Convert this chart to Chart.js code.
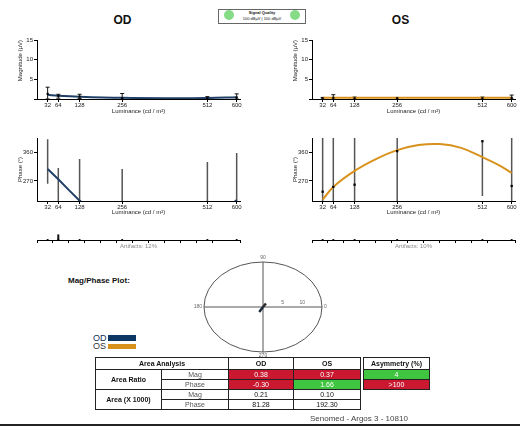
<!DOCTYPE html>
<html><head><meta charset="utf-8">
<script src="https://cdn.jsdelivr.net/npm/chart.js@4.4.1/dist/chart.umd.min.js"></script>
<style>
html,body{margin:0;padding:0;width:520px;height:427px;overflow:hidden;background:#fff;font-family:"Liberation Sans",Arial,sans-serif;color:#111;}
.abs{position:absolute;}
canvas{position:absolute;}
.ttl{font-weight:bold;font-size:12px;text-align:center;line-height:12px;}
table.t{border-collapse:collapse;table-layout:fixed;font-size:7px;}
table.t td,table.t th{border:1px solid #222;padding:0;height:9px;line-height:9px;text-align:center;overflow:hidden;white-space:nowrap;}
table.t th{font-weight:bold;}
td.g{color:#555;}
td.red{background:#c9182f;color:#fff;}
td.grn{background:#3fc53f;color:#fff;}
</style></head><body>

<div class="abs ttl" style="left:100px;top:14px;width:45px;">OD</div>
<div class="abs ttl" style="left:378px;top:14px;width:45px;">OS</div>

<div class="abs" style="left:218px;top:9px;width:86px;height:13px;border:1px solid #666;"></div>
<div class="abs" style="left:224px;top:10px;width:10px;height:10px;border-radius:50%;background:#86dc86;"></div>
<div class="abs" style="left:290px;top:10px;width:10px;height:10px;border-radius:50%;background:#86dc86;"></div>
<div class="abs" style="left:236px;top:10px;width:52px;text-align:center;font-size:4px;line-height:5px;font-weight:bold;">Signal Quality</div>
<div class="abs" style="left:234px;top:16px;width:56px;text-align:center;font-size:4px;line-height:5px;white-space:nowrap;">100 dBµV | 100 dBµV</div>

<canvas id="odMag" width="250" height="90" style="left:0;top:30px"></canvas>
<canvas id="osMag" width="245" height="90" style="left:275px;top:30px"></canvas>
<canvas id="odPh" width="250" height="100" style="left:0;top:121px"></canvas>
<canvas id="osPh" width="245" height="100" style="left:275px;top:121px"></canvas>
<canvas id="odArt" width="250" height="22" style="left:0;top:228px"></canvas>
<canvas id="osArt" width="245" height="22" style="left:275px;top:228px"></canvas>
<canvas id="polar" width="150" height="110" style="left:190px;top:250px"></canvas>

<div class="abs" style="left:68px;top:276px;font-size:8px;font-weight:bold;line-height:10px;">Mag/Phase Plot:</div>

<div class="abs" style="left:93px;top:334px;font-size:9px;line-height:8px;color:#0d2f55;">OD</div>
<div class="abs" style="left:108px;top:335px;width:28px;height:6px;background:#0d3763;"></div>
<div class="abs" style="left:93px;top:342px;font-size:9px;line-height:8px;color:#333;">OS</div>
<div class="abs" style="left:108px;top:344px;width:28px;height:5px;background:#d8921c;"></div>

<div id="tblMain" class="abs" style="left:95px;top:357px;"></div>
<div id="tblAsym" class="abs" style="left:363px;top:357px;"></div>

<div class="abs" style="left:310px;top:414px;font-size:8px;line-height:10px;color:#444;">Senomed - Argos 3 - 10810</div>
<div class="abs" style="left:0;top:424px;width:520px;height:2px;background:#222;"></div>

<script>
// ---------- DATA ----------
const luminance = [32, 64, 128, 256, 512, 600];
const luminanceTicks = [32, 64, 128, 256, 512, 600];

// Magnitude (µV)
const odMag      = [1.3, 0.8, 0.6, 0.2, 0.2, 0.4];
const odMagLow   = [0.0, 0.2, 0.1, 0.0, 0.0, 0.0];
const odMagHigh  = [3.0, 1.2, 1.2, 1.4, 0.6, 1.3];
const odMagFitX  = [32, 64, 128, 256, 384, 512, 600];
const odMagFit   = [1.05, 0.85, 0.6, 0.3, 0.2, 0.25, 0.45];

const osMag      = [0.2, 0.3, 0.2, 0.2, 0.2, 0.3];
const osMagLow   = [0.0, 0.0, 0.0, 0.0, 0.0, 0.0];
const osMagHigh  = [0.4, 1.1, 0.5, 0.4, 0.5, 1.0];
const osMagFitX  = [32, 64, 128, 256, 384, 512, 600];
const osMagFit   = [0.3, 0.3, 0.3, 0.3, 0.3, 0.3, 0.3];

// Phase (°)
const odPhaseLow  = [261, 200, 200, 200, 200, 200];
const odPhaseHigh = [400, 310, 338, 307, 329, 357];
const odPhaseFitX = [32, 64, 96, 128, 256, 384, 512, 600];
const odPhaseFit  = [307, 275, 241, 208, 120, 80, 130, 210];

const osPhase     = [236, 251, 258, 363, 394, 254];
const osPhaseLow  = [200, 200, 200, 200, 223, 200];
const osPhaseHigh = [410, 410, 410, 410, 397, 410];
const osPhaseFitX = [32, 64, 128, 192, 256, 320, 384, 448, 512, 560, 600];
const osPhaseFit  = [211, 251, 301, 338, 366, 382, 385, 373, 344, 320, 295];

// Artifacts
const odArtifacts = [0, 3.5, 0, 0, 0, 0];
const osArtifacts = [0, 0, 0, 0, 0, 0];
const odArtifactPct = 12;
const osArtifactPct = 10;

// Mag/Phase polar vectors: [magnitude, phase°]
const polarOD = [1.9, 240];
const polarOS = [1.4, 58];
const polarRadialTicks = [5, 10];

// Area analysis table
const areaRatioMag   = ['0.38', '0.37'];
const areaRatioPhase = ['-0.30', '1.66'];
const areaMag        = ['0.21', '0.10'];
const areaPhase      = ['81.28', '192.30'];
const asymmetry      = ['4', '>100'];
const areaRatioMagColors   = ['red', 'red'];
const areaRatioPhaseColors = ['red', 'grn'];
const asymmetryColors      = ['grn', 'red'];

// ---------- COLOURS ----------
const OD_COLOR = '#1f3f66';
const OS_COLOR = '#d8921c';

Chart.defaults.font.family = '"Liberation Sans", Arial, sans-serif';
Chart.defaults.color = '#222';
Chart.defaults.animation = false;
Chart.defaults.devicePixelRatio = 1;
Chart.defaults.plugins.legend.display = false;
Chart.defaults.plugins.tooltip.enabled = false;

function pts(xs, ys){ return xs.map((x,i)=>({x, y: ys[i]})); }
function errData(xs, lo, hi){
  const d = [];
  xs.forEach((x,i)=>{ d.push({x, y: lo[i]}, {x, y: hi[i]}, {x, y: null}); });
  return d;
}

function xScale(h, tb, title, opts){
  opts = opts || {};
  return {
    type: 'linear', min: 0, max: 610,
    afterBuildTicks: s => { s.ticks = (opts.step ? s.ticks : luminanceTicks.map(v=>({value:v}))); },
    afterFit: s => { s.height = h; },
    ticks: { display: !opts.noLabels, font: { size: 6 }, color: '#222', padding: 0, maxRotation: 0, autoSkip: false, stepSize: opts.step },
    grid: { display: true, drawOnChartArea: false, tickLength: 3, color: '#000', lineWidth: 1 },
    border: { color: '#000', width: 1 },
    title: { display: true, text: title, font: { size: 6 }, color: opts.titleColor || '#222', padding: { top: 0, bottom: tb } }
  };
}

function magChart(id, pointsY, lo, hi, fitX, fitY, color){
  new Chart(document.getElementById(id), {
    type: 'scatter',
    data: { datasets: [
      { data: pts(luminance, pointsY), pointStyle: 'rect', pointRadius: 1.5, backgroundColor: '#000', borderColor: '#000', borderWidth: 0 },
      { data: pts(fitX, fitY), showLine: true, borderColor: color, borderWidth: 2, pointRadius: 0, tension: 0.4 },
      { data: errData(luminance, lo, hi), showLine: true, spanGaps: false, borderColor: '#111', borderWidth: 1, pointStyle: 'line', pointRadius: 2, pointBorderColor: '#111', pointBorderWidth: 1 }
    ]},
    options: {
      responsive: false,
      layout: { padding: { top: 10, right: id === 'odMag' ? 10 : 5, left: 0, bottom: 0 } },
      scales: {
        x: xScale(21, 5, 'Luminance (cd / m²)'),
        y: {
          min: 0, max: 15,
          afterFit: s => { s.width = 37; },
          ticks: { stepSize: 5, font: { size: 6 }, color: '#222', padding: 1, callback: v => v === 0 ? '' : v },
          grid: { display: true, drawOnChartArea: false, tickLength: 3, color: '#000' },
          border: { color: '#000', width: 1 },
          title: { display: true, text: 'Magnitude (µV)', align: 'end', font: { size: 6 }, color: '#222', padding: { top: 17, bottom: 0 } }
        }
      }
    }
  });
}

function phaseChart(id, pointsY, lo, hi, fitX, fitY, color, tension){
  const ds = [];
  if (pointsY) ds.push({ data: pts(luminance, pointsY), pointStyle: 'rect', pointRadius: 1.6, backgroundColor: '#000', borderColor: '#000', borderWidth: 0 });
  ds.push({ data: pts(fitX, fitY), showLine: true, borderColor: color, borderWidth: 2, pointRadius: 0, tension: tension });
  ds.push({ data: errData(luminance, lo, hi), showLine: true, spanGaps: false, borderColor: '#555', borderWidth: 1.5, pointRadius: 0 });
  new Chart(document.getElementById(id), {
    type: 'scatter',
    data: { datasets: ds },
    options: {
      responsive: false,
      layout: { padding: { top: 17, right: id === 'odPh' ? 10 : 5, left: 0, bottom: 0 } },
      scales: {
        x: xScale(20, 5, 'Luminance (cd / m²)'),
        y: {
          min: 207, max: 404,
          afterBuildTicks: s => { s.ticks = [{value:270},{value:360}]; },
          afterFit: s => { s.width = 37; },
          ticks: { font: { size: 6 }, color: '#222', padding: 1 },
          grid: { display: true, drawOnChartArea: false, tickLength: 3, color: '#000' },
          border: { color: '#000', width: 1 },
          title: { display: true, text: 'Phase (°)', font: { size: 6 }, color: '#222', padding: { top: 17, bottom: 0 } }
        }
      }
    }
  });
}

function artChart(id, arts, pct){
  new Chart(document.getElementById(id), {
    type: 'scatter',
    data: { datasets: [
      { data: pts(luminance, luminance.map(()=>0)), pointStyle: 'rect', pointRadius: 1.3, backgroundColor: '#000', borderWidth: 0, clip: false },
      { data: errData(luminance, luminance.map(()=>0), arts), showLine: true, spanGaps: false, borderColor: '#111', borderWidth: 2, pointRadius: 0, clip: false }
    ]},
    options: {
      responsive: false,
      layout: { padding: { top: 2, right: id === 'odArt' ? 10 : 5, left: 37, bottom: 0 } },
      scales: {
        x: xScale(10, 0, 'Artifacts: ' + pct + '%', { step: 48, noLabels: true, titleColor: '#8a8a8a' }),
        y: { display: false, min: 0, max: 5 }
      }
    }
  });
}

magChart('odMag', odMag, odMagLow, odMagHigh, odMagFitX, odMagFit, OD_COLOR);
magChart('osMag', osMag, osMagLow, osMagHigh, osMagFitX, osMagFit, OS_COLOR);
phaseChart('odPh', null, odPhaseLow, odPhaseHigh, odPhaseFitX, odPhaseFit, OD_COLOR, 0);
phaseChart('osPh', osPhase, osPhaseLow, osPhaseHigh, osPhaseFitX, osPhaseFit, OS_COLOR, 0.4);
artChart('odArt', odArtifacts, odArtifactPct);
artChart('osArt', osArtifacts, osArtifactPct);

// ---------- POLAR ----------
function vec(mp){
  const r = mp[1] * Math.PI / 180;
  return [{x:0, y:0}, {x: mp[0]*Math.cos(r), y: mp[0]*Math.sin(r)}];
}
const polarFrame = {
  id: 'polarFrame',
  beforeDatasetsDraw(chart){
    const {ctx, chartArea: a, scales: {x, y}} = chart;
    ctx.save();
    ctx.strokeStyle = '#555'; ctx.lineWidth = 1;
    ctx.beginPath();
    ctx.ellipse((a.left+a.right)/2, (a.top+a.bottom)/2, (a.right-a.left)/2, (a.bottom-a.top)/2, 0, 0, Math.PI*2);
    ctx.stroke();
    ctx.fillStyle = '#666'; ctx.font = '5px "Liberation Sans", Arial';
    ctx.textAlign = 'center'; ctx.textBaseline = 'middle';
    ctx.fillText('90', x.getPixelForValue(0), y.getPixelForValue(15) - 4);
    ctx.fillText('270', x.getPixelForValue(0), y.getPixelForValue(-15) + 4);
    ctx.textAlign = 'right';
    ctx.fillText('180', x.getPixelForValue(-15) - 2, y.getPixelForValue(0));
    ctx.textAlign = 'left';
    ctx.fillText('0', x.getPixelForValue(15) + 2, y.getPixelForValue(0));
    ctx.textAlign = 'center';
    polarRadialTicks.forEach(t => ctx.fillText(String(t), x.getPixelForValue(t), y.getPixelForValue(0) - 4));
    ctx.restore();
  }
};
new Chart(document.getElementById('polar'), {
  type: 'scatter',
  data: { datasets: [
    { data: vec(polarOD), showLine: true, borderColor: '#1a2a3a', borderWidth: 2.5, pointRadius: 0 },
    { data: vec(polarOS), showLine: true, borderColor: '#2a2a2a', borderWidth: 2.5, pointRadius: 0 },
    { data: [{x:-15,y:0},{x:15,y:0}], showLine: true, borderColor: '#555', borderWidth: 1, pointRadius: 0 },
    { data: [{x:0,y:-15},{x:0,y:15}], showLine: true, borderColor: '#555', borderWidth: 1, pointRadius: 0 }
  ]},
  options: {
    responsive: false,
    layout: { padding: { top: 12, right: 18, left: 14, bottom: 8 } },
    scales: { x: { display: false, min: -15, max: 15 }, y: { display: false, min: -15, max: 15 } }
  },
  plugins: [polarFrame]
});

// ---------- TABLES ----------
const c = (v, cls) => '<td' + (cls ? ' class="' + cls + '"' : '') + '>' + v + '</td>';
document.getElementById('tblMain').innerHTML =
  '<table class="t" style="width:266px"><colgroup><col style="width:66px"><col style="width:67px"><col style="width:65px"><col style="width:67px"></colgroup>' +
  '<tr><th colspan="2" style="height:11px">Area Analysis</th><th>OD</th><th>OS</th></tr>' +
  '<tr><th rowspan="2">Area Ratio</th>' + c('Mag','g') + c(areaRatioMag[0], areaRatioMagColors[0]) + c(areaRatioMag[1], areaRatioMagColors[1]) + '</tr>' +
  '<tr>' + c('Phase','g') + c(areaRatioPhase[0], areaRatioPhaseColors[0]) + c(areaRatioPhase[1], areaRatioPhaseColors[1]) + '</tr>' +
  '<tr><th rowspan="2">Area (X 1000)</th>' + c('Mag','g') + c(areaMag[0]) + c(areaMag[1]) + '</tr>' +
  '<tr>' + c('Phase','g') + c(areaPhase[0]) + c(areaPhase[1]) + '</tr></table>';
document.getElementById('tblAsym').innerHTML =
  '<table class="t" style="width:67px"><tr><th style="height:11px">Asymmetry (%)</th></tr>' +
  '<tr>' + c(asymmetry[0], asymmetryColors[0]) + '</tr><tr>' + c(asymmetry[1], asymmetryColors[1]) + '</tr></table>';
</script>
</body></html>
